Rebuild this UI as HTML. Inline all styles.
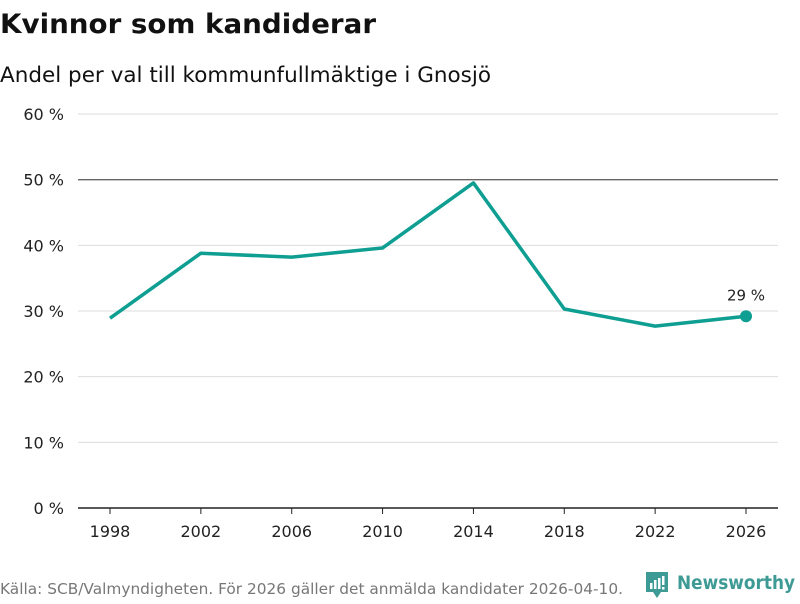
<!DOCTYPE html>
<html><head><meta charset="utf-8"><style>
body{margin:0;width:800px;height:600px;background:#fff;font-family:"DejaVu Sans","Liberation Sans",sans-serif;overflow:hidden}
</style></head><body>
<svg width="800" height="600" id="svg" font-family="DejaVu Sans, Liberation Sans, sans-serif">
<text x="0" y="33" font-size="25" font-weight="bold" fill="#111" textLength="376" lengthAdjust="spacingAndGlyphs" style="font-size:27px">Kvinnor som kandiderar</text>
<text x="0" y="82" font-size="21" fill="#111" textLength="491" lengthAdjust="spacingAndGlyphs">Andel per val till kommunfullmäktige i Gnosjö</text>
<g id="grid"></g><g id="xaxis"></g><g id="series"></g>
<text x="0" y="594" font-size="15" fill="#777" textLength="623" lengthAdjust="spacingAndGlyphs">Källa: SCB/Valmyndigheten. För 2026 gäller det anmälda kandidater 2026-04-10.</text>
<g>
<path d="M646 572h22v20h-7l-4 6-4-6h-7z" fill="#3e9a94"/>
<rect x="650" y="583" width="2.5" height="6" fill="#fff"/><rect x="654" y="580" width="2.5" height="9" fill="#fff"/><rect x="658" y="578" width="2.5" height="11" fill="#fff"/><rect x="662" y="576" width="2.5" height="9" fill="#fff"/><rect x="662" y="587" width="2.5" height="2.5" fill="#fff"/>
<text x="677" y="589" font-size="19" font-weight="bold" fill="#3e9a94" textLength="118" lengthAdjust="spacingAndGlyphs">Newsworthy</text>
</g>
</svg>
<script>
const years=[1998,2002,2006,2010,2014,2018,2022,2026];
const values=[28.9,38.8,38.2,39.6,49.5,30.3,27.7,29.2];
const yTicks=[0,10,20,30,40,50,60];
const NS="http://www.w3.org/2000/svg";
const x=v=>110+(v-1998)*(746-110)/28;
const y=v=>508-v*(508-114)/60;
function mk(t,a,p){const e=document.createElementNS(NS,t);for(const k in a)e.setAttribute(k,a[k]);p.appendChild(e);return e;}
const g=document.getElementById('grid');
yTicks.forEach(t=>{
 if(t>0){const l=mk('line',{x1:78,x2:778,y1:y(t),y2:y(t),stroke:t==50?'#666':'#ddd','stroke-width':t==50?1.3:1},g);
 
 }
 const tx=mk('text',{x:64,y:y(t)+6,'font-size':16,fill:'#222','text-anchor':'end'},g);tx.textContent=t+' %';
 
 
});
const xa=document.getElementById('xaxis');
const ax=mk('line',{x1:78,x2:778,y1:508,y2:508,stroke:'#222','stroke-width':1.5},xa);


years.forEach(yr=>{
 mk('line',{x1:x(yr),x2:x(yr),y1:508,y2:514,stroke:'#222'},xa);
 const tx=mk('text',{x:x(yr),y:537,'font-size':16,fill:'#222','text-anchor':'middle'},xa);tx.textContent=yr;
 
 
});
const s=document.getElementById('series');
const p=mk('polyline',{points:years.map((yr,i)=>x(yr)+','+y(values[i])).join(' '),fill:'none',stroke:'#0e9e92','stroke-width':3.5,'stroke-linejoin':'round'},s);


const n=years.length-1;
const c=mk('circle',{cx:x(years[n]),cy:y(values[n]),r:6,fill:'#0e9e92'},s);


const lb=mk('text',{x:x(years[n]),y:y(values[n])-16,'font-size':15,fill:'#222','text-anchor':'middle'},s);lb.textContent=Math.round(values[n])+' %';


</script>
</body></html>
